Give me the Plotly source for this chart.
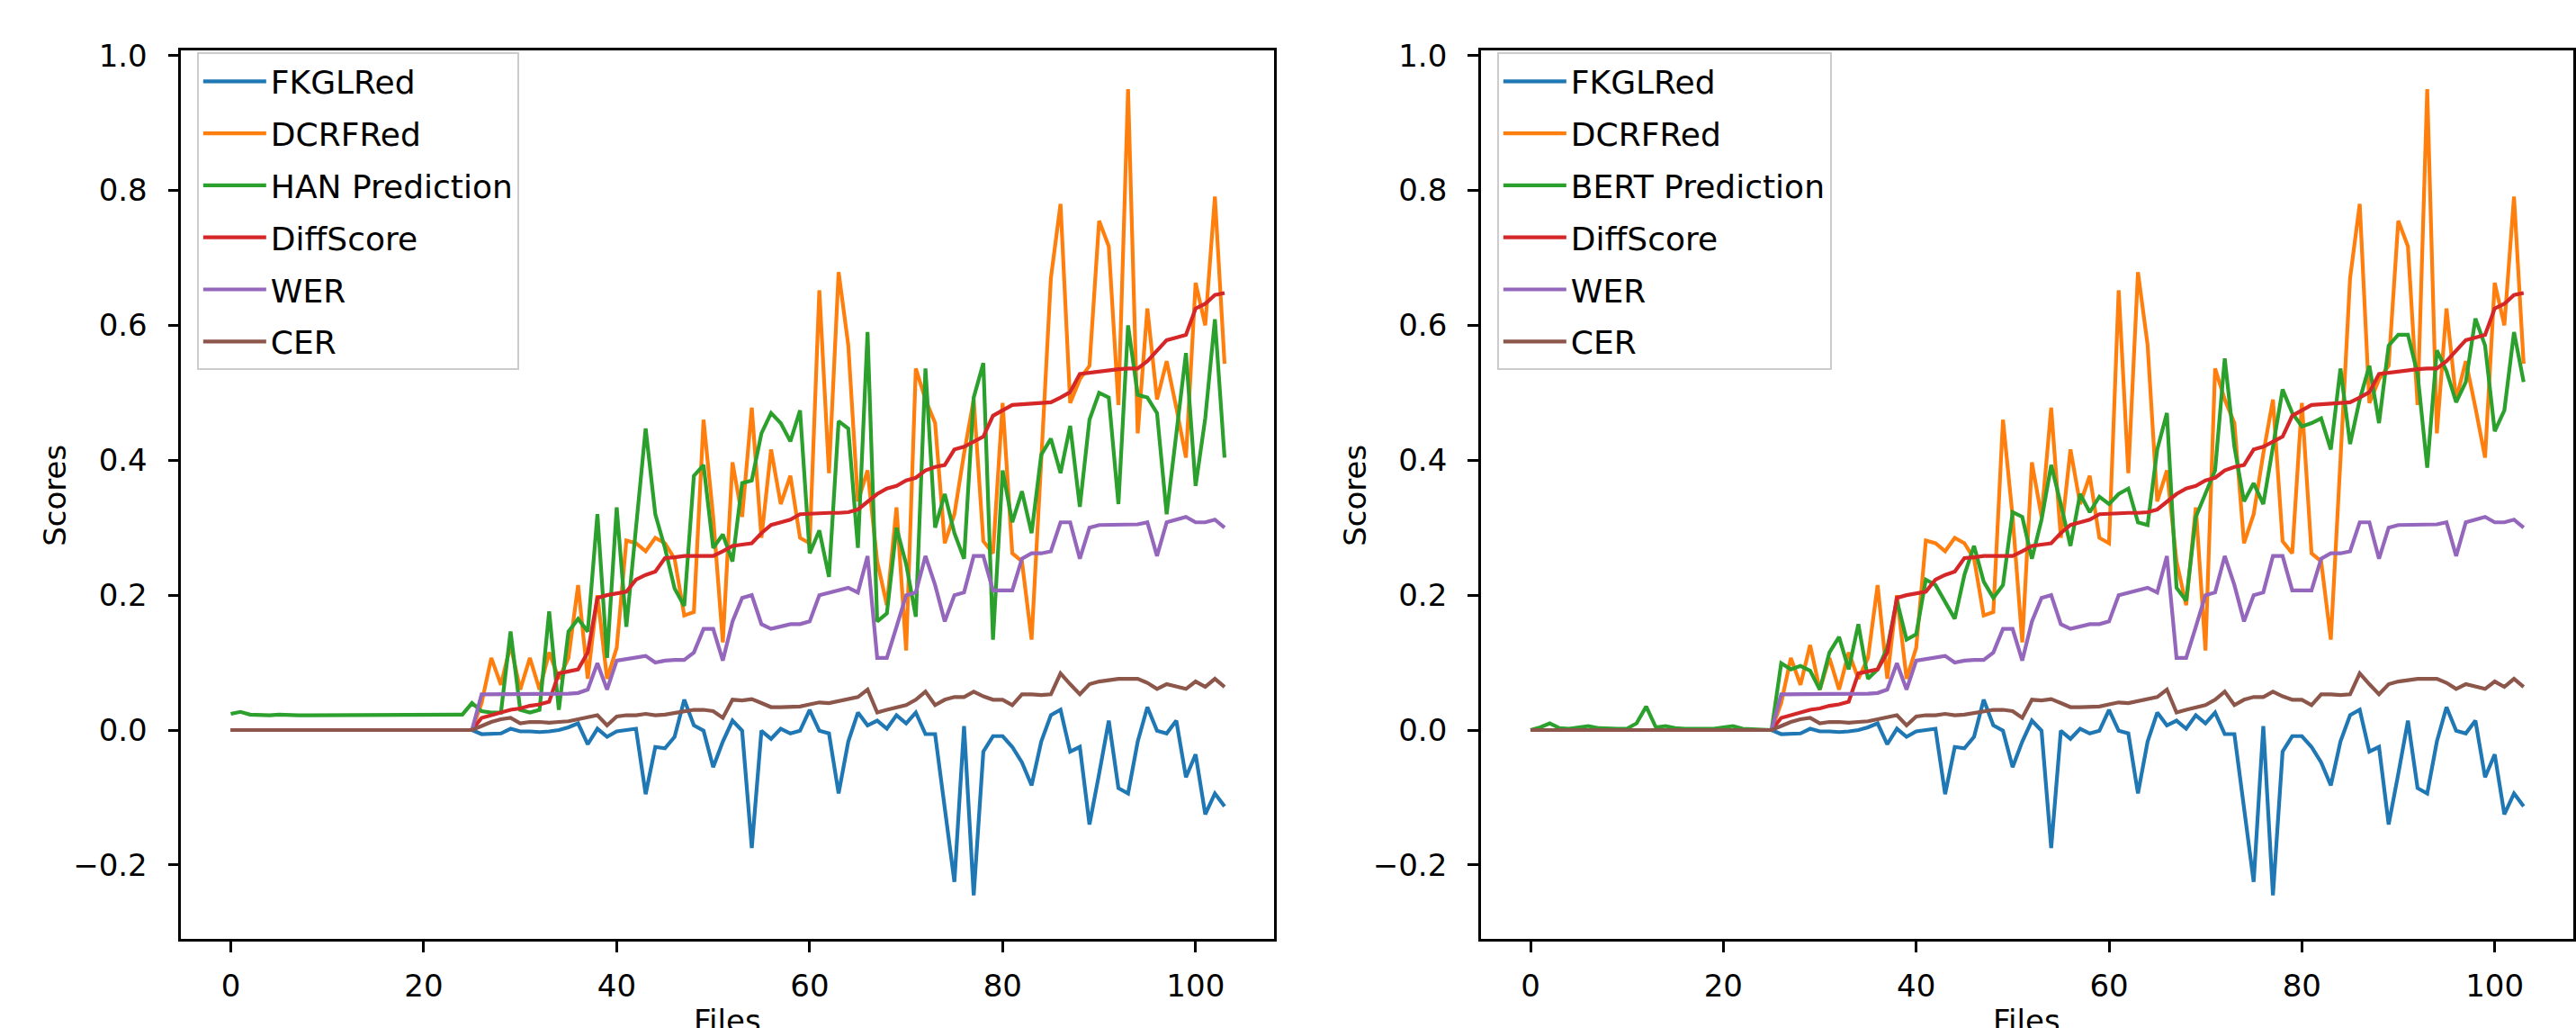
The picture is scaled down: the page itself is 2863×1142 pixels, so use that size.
import plotly.graph_objects as go

files = list(range(104))

fkgl_red = [
    0, 0, 0, 0, 0, 0, 0, 0, 0, 0,
    0, 0, 0, 0, 0, 0, 0, 0, 0, 0,
    0, 0, 0, 0, 0, 0, -0.006, -0.006, -0.005, 0.002,
    -0.002, -0.002, -0.003, -0.002, 0.000, 0.004, 0.010, -0.021, 0.002, -0.010,
    -0.002, 0.000, 0.002, -0.095, -0.025, -0.027, -0.010, 0.045, 0.007, -0.001,
    -0.055, -0.017, 0.014, -0.001, -0.175, -0.001, -0.013, 0.002, -0.005, -0.001,
    0.030, -0.001, -0.005, -0.094, -0.017, 0.026, 0.007, 0.014, 0.002, 0.022,
    0.010, 0.026, -0.006, -0.006, -0.115, -0.225, 0.006, -0.245, -0.032, -0.009,
    -0.009, -0.025, -0.048, -0.082, -0.017, 0.022, 0.030, -0.032, -0.025, -0.140,
    -0.065, 0.014, -0.086, -0.094, -0.017, 0.034, -0.001, -0.005, 0.014, -0.070,
    -0.036, -0.125, -0.094, -0.113,
]

dcrf_red = [
    0, 0, 0, 0, 0, 0, 0, 0, 0, 0,
    0, 0, 0, 0, 0, 0, 0, 0, 0, 0,
    0, 0, 0, 0, 0, 0, 0.040, 0.107, 0.067, 0.126,
    0.060, 0.107, 0.060, 0.115, 0.076, 0.107, 0.215, 0.076, 0.200, 0.076,
    0.122, 0.281, 0.277, 0.265, 0.285, 0.277, 0.254, 0.170, 0.175, 0.460,
    0.316, 0.130, 0.397, 0.316, 0.478, 0.285, 0.416, 0.335, 0.377, 0.285,
    0.277, 0.652, 0.381, 0.679, 0.571, 0.339, 0.385, 0.250, 0.185, 0.330,
    0.118, 0.536, 0.490, 0.455, 0.277, 0.320, 0.410, 0.490, 0.280, 0.262,
    0.485, 0.262, 0.250, 0.134, 0.400, 0.670, 0.780, 0.485, 0.520, 0.540,
    0.755, 0.717, 0.482, 0.950, 0.440, 0.625, 0.490, 0.547, 0.478, 0.404,
    0.663, 0.600, 0.791, 0.543,
]

han_prediction = [
    0.024, 0.027, 0.023, 0.022, 0.022, 0.023, 0.022, 0.022, 0.022, 0.022,
    0.022, 0.022, 0.022, 0.022, 0.022, 0.022, 0.022, 0.022, 0.022, 0.022,
    0.022, 0.022, 0.022, 0.022, 0.023, 0.040, 0.028, 0.026, 0.026, 0.146,
    0.030, 0.026, 0.030, 0.176, 0.030, 0.146, 0.165, 0.146, 0.320, 0.107,
    0.330, 0.153, 0.300, 0.447, 0.320, 0.270, 0.210, 0.184, 0.377, 0.393,
    0.270, 0.290, 0.250, 0.366, 0.370, 0.440, 0.470, 0.455, 0.428, 0.474,
    0.262, 0.296, 0.227, 0.458, 0.447, 0.270, 0.590, 0.161, 0.173, 0.300,
    0.246, 0.168, 0.536, 0.300, 0.350, 0.292, 0.254, 0.493, 0.544, 0.134,
    0.385, 0.308, 0.354, 0.292, 0.408, 0.432, 0.381, 0.451, 0.331, 0.460,
    0.500, 0.493, 0.335, 0.600, 0.497, 0.493, 0.470, 0.320, 0.439, 0.559,
    0.362, 0.462, 0.609, 0.404,
]

bert_prediction = [
    0.000, 0.004, 0.010, 0.003, 0.002, 0.004, 0.006, 0.003, 0.002, 0.002,
    0.002, 0.010, 0.035, 0.004, 0.006, 0.003, 0.002, 0.002, 0.003, 0.002,
    0.004, 0.006, 0.002, 0.001, 0.001, 0.000, 0.099, 0.090, 0.095, 0.088,
    0.060, 0.115, 0.138, 0.090, 0.157, 0.076, 0.090, 0.122, 0.192, 0.134,
    0.142, 0.223, 0.215, 0.190, 0.165, 0.230, 0.273, 0.220, 0.196, 0.215,
    0.323, 0.316, 0.254, 0.312, 0.393, 0.335, 0.273, 0.350, 0.323, 0.346,
    0.335, 0.350, 0.358, 0.308, 0.304, 0.416, 0.470, 0.211, 0.192, 0.316,
    0.350, 0.385, 0.551, 0.420, 0.339, 0.366, 0.335, 0.420, 0.505, 0.470,
    0.450, 0.455, 0.462, 0.416, 0.536, 0.424, 0.490, 0.540, 0.455, 0.570,
    0.586, 0.586, 0.528, 0.389, 0.563, 0.532, 0.486, 0.516, 0.610, 0.570,
    0.443, 0.474, 0.590, 0.516,
]

diff_score = [
    0, 0, 0, 0, 0, 0, 0, 0, 0, 0,
    0, 0, 0, 0, 0, 0, 0, 0, 0, 0,
    0, 0, 0, 0, 0, 0, 0.018, 0.022, 0.025, 0.030,
    0.032, 0.036, 0.038, 0.042, 0.084, 0.087, 0.090, 0.115, 0.196, 0.200,
    0.202, 0.205, 0.223, 0.230, 0.235, 0.255, 0.256, 0.258, 0.258, 0.258,
    0.258, 0.265, 0.273, 0.275, 0.277, 0.292, 0.304, 0.308, 0.312, 0.320,
    0.321, 0.321, 0.322, 0.322, 0.323, 0.327, 0.339, 0.350, 0.358, 0.362,
    0.370, 0.374, 0.385, 0.390, 0.393, 0.416, 0.420, 0.428, 0.435, 0.466,
    0.474, 0.482, 0.483, 0.484, 0.485, 0.486, 0.493, 0.501, 0.528, 0.530,
    0.532, 0.534, 0.535, 0.536, 0.536, 0.547, 0.563, 0.578, 0.582, 0.586,
    0.625, 0.632, 0.645, 0.648,
]

wer = [
    0, 0, 0, 0, 0, 0, 0, 0, 0, 0,
    0, 0, 0, 0, 0, 0, 0, 0, 0, 0,
    0, 0, 0, 0, 0, 0, 0.053, 0.053, 0.053, 0.053,
    0.053, 0.053, 0.053, 0.053, 0.054, 0.054, 0.055, 0.060, 0.099, 0.060,
    0.103, 0.105, 0.107, 0.110, 0.100, 0.103, 0.104, 0.104, 0.115, 0.150,
    0.150, 0.103, 0.161, 0.196, 0.200, 0.157, 0.150, 0.153, 0.157, 0.157,
    0.161, 0.200, 0.204, 0.207, 0.211, 0.204, 0.258, 0.107, 0.107, 0.153,
    0.200, 0.204, 0.258, 0.215, 0.161, 0.200, 0.204, 0.258, 0.258, 0.207,
    0.207, 0.207, 0.254, 0.262, 0.262, 0.265, 0.308, 0.308, 0.254, 0.300,
    0.304, 0.304, 0.305, 0.305, 0.305, 0.308, 0.258, 0.308, 0.312, 0.316,
    0.308, 0.308, 0.312, 0.300,
]

cer = [
    0, 0, 0, 0, 0, 0, 0, 0, 0, 0,
    0, 0, 0, 0, 0, 0, 0, 0, 0, 0,
    0, 0, 0, 0, 0, 0, 0.006, 0.012, 0.016, 0.018,
    0.010, 0.012, 0.012, 0.011, 0.012, 0.013, 0.016, 0.019, 0.022, 0.007,
    0.020, 0.022, 0.022, 0.024, 0.022, 0.023, 0.025, 0.028, 0.030, 0.030,
    0.028, 0.018, 0.045, 0.044, 0.046, 0.040, 0.034, 0.034, 0.034, 0.035,
    0.038, 0.041, 0.040, 0.043, 0.046, 0.049, 0.060, 0.026, 0.030, 0.034,
    0.037, 0.045, 0.057, 0.037, 0.045, 0.049, 0.049, 0.057, 0.050, 0.045,
    0.045, 0.037, 0.053, 0.053, 0.052, 0.053, 0.084, 0.068, 0.053, 0.068,
    0.072, 0.074, 0.076, 0.076, 0.076, 0.070, 0.061, 0.068, 0.065, 0.061,
    0.072, 0.064, 0.076, 0.064,
]

x_ticks = [0, 20, 40, 60, 80, 100]
y_ticks = [-0.2, 0.0, 0.2, 0.4, 0.6, 0.8, 1.0]

colors = ["#1f77b4", "#ff7f0e", "#2ca02c", "#d62728", "#9467bd", "#8c564b"]

panels = [
    ("x", "y", "legend", ["FKGLRed", "DCRFRed", "HAN Prediction", "DiffScore", "WER", "CER"],
     [fkgl_red, dcrf_red, han_prediction, diff_score, wer, cer]),
    ("x2", "y2", "legend2", ["FKGLRed", "DCRFRed", "BERT Prediction", "DiffScore", "WER", "CER"],
     [fkgl_red, dcrf_red, bert_prediction, diff_score, wer, cer]),
]

FONT = "DejaVu Sans, Liberation Sans, sans-serif"
FS = 34
LFS = 36

fig = go.Figure()
for xa, ya, lg, names, series in panels:
    for k, (name, vals) in enumerate(zip(names, series)):
        fig.add_trace(go.Scatter(
            x=files, y=vals, mode="lines", name=name,
            line=dict(color=colors[k], width=4.2),
            xaxis=xa, yaxis=ya, legend=lg, legendgroup=lg + name,
        ))

W, H = 2863, 1142
left_dom = [201.4 / W, 1417.2 / W]
right_dom = [1647.0 / W, 2862.0 / W]
y_dom = [(H - 1042) / H, (H - 42) / H]

axis_common = dict(
    showline=True, mirror=True, linecolor="black", linewidth=2.5,
    ticks="outside", ticklen=12, tickwidth=2.5, tickcolor="black",
    showgrid=False, zeroline=False,
    tickfont=dict(family=FONT, size=FS, color="black"),
)

legend_common = dict(
    y=(H - 44) / H, xanchor="left", yanchor="top",
    bgcolor="rgba(255,255,255,0.8)", bordercolor="#cccccc", borderwidth=2,
    font=dict(family=FONT, size=LFS, color="black"),
    tracegroupgap=8, itemwidth=70,
)

fig.update_layout(
    width=W, height=H,
    margin=dict(l=0, r=0, t=0, b=0),
    paper_bgcolor="white", plot_bgcolor="white",
    font=dict(family=FONT, size=FS, color="black"),
    xaxis=dict(domain=left_dom, range=[-5.15, 108.15], tickvals=x_ticks,
               anchor="y", ticklabelstandoff=8, **axis_common),
    yaxis=dict(domain=y_dom, range=[-0.31, 1.007], tickvals=y_ticks, tickformat=".1f",
               anchor="x", ticklabelstandoff=16, **axis_common),
    xaxis2=dict(domain=right_dom, range=[-5.15, 108.15], tickvals=x_ticks,
                anchor="y2", ticklabelstandoff=8, **axis_common),
    yaxis2=dict(domain=y_dom, range=[-0.31, 1.007], tickvals=y_ticks, tickformat=".1f",
                anchor="x2", ticklabelstandoff=16, **axis_common),
    legend=dict(x=219 / W, **legend_common),
    legend2=dict(x=1665 / W, **legend_common),
    showlegend=True,
)

label_font = dict(family=FONT, size=FS, color="black")
for cx, sx in [((201.4 + 1417.2) / 2 / W, 61 / W), ((1647 + 2862) / 2 / W, 1507 / W)]:
    fig.add_annotation(text="Files", x=cx, y=(H - 1112) / H, xref="paper", yref="paper",
                       xanchor="center", yanchor="top", showarrow=False, font=label_font)
    fig.add_annotation(text="Scores", x=sx, y=(H - 542) / H, xref="paper", yref="paper",
                       xanchor="center", yanchor="middle", textangle=-90,
                       showarrow=False, font=label_font)

fig.write_html(
    "out.html",
    config={"displayModeBar": False},
    post_script="document.body.style.margin='0';document.body.style.overflow='hidden';",
)
